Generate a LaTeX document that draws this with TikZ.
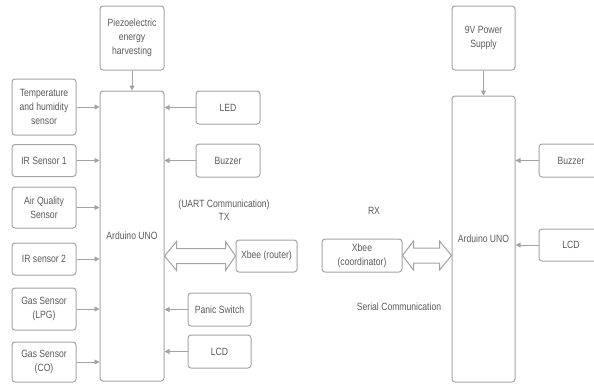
\documentclass[tikz,border=0pt]{standalone}
\usepackage{fontspec}
\setmainfont{Liberation Sans}[FakeStretch=0.82]
\usetikzlibrary{arrows.meta,calc}
\definecolor{boxline}{HTML}{A3A3A3}
\definecolor{txt}{HTML}{5A5A5A}
\tikzset{
  blk/.style={draw=boxline, line width=1pt, rounded corners=3pt, align=center, text=txt,
    font=\fontsize{10.5}{14}\selectfont, inner sep=1pt},
  sig/.style={draw=boxline, line width=0.9pt, -{Triangle[length=5pt,width=5pt]}},
  fat/.style={draw=boxline, line width=1pt, fill=white, line join=miter},
  lbl/.style={text=txt, align=center, font=\fontsize{10.5}{13}\selectfont}
}
\begin{document}
\begin{tikzpicture}[x=1pt,y=-1pt]
                \useasboundingbox (0,0) rectangle (594,383);
                % transmitter side
                \node[blk,minimum width=64pt,minimum height=64pt] (piezo) at (132,38) {Piezoelectric\\energy\\harvesting};
                \node[blk,minimum width=64pt,minimum height=290pt] (ardL) at (132,236) {Arduino UNO};
                \node[blk,minimum width=64pt,minimum height=56pt] (temp) at (44,107) {Temperature\\and humidity\\sensor};
                \node[blk,minimum width=64pt,minimum height=32pt] (irA) at (44,160.5) {IR Sensor 1};
                \node[blk,minimum width=64pt,minimum height=41pt] (air) at (44,207.5) {Air Quality\\Sensor};
                \node[blk,minimum width=64pt,minimum height=32pt] (irB) at (44,259) {IR sensor 2};
                \node[blk,minimum width=64pt,minimum height=42pt] (lpg) at (44,309) {Gas Sensor\\(LPG)};
                \node[blk,minimum width=64pt,minimum height=40pt] (co) at (44,362) {Gas Sensor\\(CO)};
                \node[blk,minimum width=64pt,minimum height=33pt] (led) at (228,107.5) {LED};
                \node[blk,minimum width=64pt,minimum height=33pt] (buzL) at (228,160.5) {Buzzer};
                \node[blk,minimum width=61pt,minimum height=32pt] (xbeeR) at (266.5,256) {Xbee (router)};
                \node[blk,minimum width=63pt,minimum height=33pt] (panic) at (219.5,309.5) {Panic Switch};
                \node[blk,minimum width=63pt,minimum height=33pt] (lcdL) at (219.5,351.5) {LCD};
                \node[lbl] (uart) at (224,210.5) {(UART Communication)\\TX};
                \draw[sig] (piezo) -- (ardL);
                \draw[sig] (temp) -- (temp -| ardL.west);
                \draw[sig] (irA) -- (irA -| ardL.west);
                \draw[sig] (air) -- (air -| ardL.west);
                \draw[sig] (irB) -- (irB -| ardL.west);
                \draw[sig] (lpg) -- (lpg -| ardL.west);
                \draw[sig] (co) -- (co -| ardL.west);
                \draw[sig] (led) -- (led -| ardL.east);
                \draw[sig] (buzL) -- (buzL -| ardL.east);
                \draw[sig] (panic) -- (panic -| ardL.east);
                \draw[sig] (lcdL) -- (lcdL -| ardL.east);
                \draw[fat] let \p1=(xbeeR.west -| ardL.east), \p2=(xbeeR.west) in
                  (\x1,\y1) -- (\x1+12pt,\y1+14.5pt) -- (\x1+12pt,\y1+7.5pt) -- (\x2-10pt,\y1+7.5pt)
                  -- (\x2-10pt,\y1+14.5pt) -- (\x2,\y1) -- (\x2-10pt,\y1-14.5pt) -- (\x2-10pt,\y1-7.5pt)
                  -- (\x1+12pt,\y1-7.5pt) -- (\x1+12pt,\y1-14.5pt) -- cycle;
                % receiver side
                \node[blk,minimum width=63pt,minimum height=64pt] (power) at (483.5,38) {9V Power\\Supply};
                \node[blk,minimum width=63pt,minimum height=286pt] (ardR) at (483.5,239) {Arduino UNO};
                \node[blk,minimum width=64pt,minimum height=33pt] (buzR) at (571,160.5) {Buzzer};
                \node[blk,minimum width=64pt,minimum height=32pt] (lcdR) at (571,245) {LCD};
                \node[blk,minimum width=80pt,minimum height=33pt] (xbeeC) at (362,255.5) {Xbee\\(coordinator)};
                \node[lbl] (rx) at (374,211) {RX};
                \node[lbl] (serial) at (399,307) {Serial Communication};
                \draw[sig] (power) -- (ardR);
                \draw[sig] (buzR) -- (buzR -| ardR.east);
                \draw[sig] (lcdR) -- (lcdR -| ardR.east);
                \draw[fat] let \p1=(xbeeC.east), \p2=(xbeeC.east -| ardR.west) in
                  (\x1,\y1) -- (\x1+11pt,\y1+14.5pt) -- (\x1+11pt,\y1+7.5pt) -- (\x2-12pt,\y1+7.5pt)
                  -- (\x2-12pt,\y1+14.5pt) -- (\x2,\y1) -- (\x2-12pt,\y1-14.5pt) -- (\x2-12pt,\y1-7.5pt)
                  -- (\x1+11pt,\y1-7.5pt) -- (\x1+11pt,\y1-14.5pt) -- cycle;
            \end{tikzpicture}
\end{document}
